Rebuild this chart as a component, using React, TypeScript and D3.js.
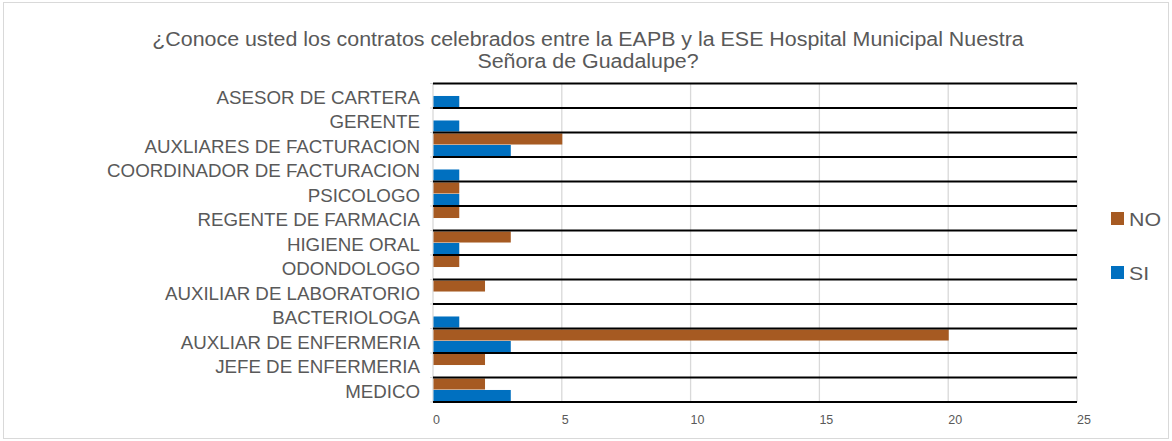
import React from 'react';
import * as d3 from 'd3';

const categories = [
  'ASESOR DE CARTERA',
  'GERENTE',
  'AUXLIARES DE FACTURACION',
  'COORDINADOR DE FACTURACION',
  'PSICOLOGO',
  'REGENTE DE FARMACIA',
  'HIGIENE ORAL',
  'ODONDOLOGO',
  'AUXILIAR DE LABORATORIO',
  'BACTERIOLOGA',
  'AUXLIAR DE ENFERMERIA',
  'JEFE DE ENFERMERIA',
  'MEDICO',
];
const noValues = [0, 0, 5, 0, 1, 1, 3, 1, 2, 0, 20, 2, 2];
const siValues = [1, 1, 3, 1, 1, 0, 1, 0, 0, 1, 3, 0, 3];
const xTicks = [0, 5, 10, 15, 20, 25];
const seriesNames = ['NO', 'SI'];
const seriesColors = ['#A65A22', '#0070C0'];

const titleLines = [
  '¿Conoce usted los contratos celebrados entre la EAPB y la  ESE Hospital Municipal Nuestra',
  'Señora de Guadalupe?',
];

export default function App() {
  const width = 1172;
  const height = 441;
  const left = 433;
  const right = 1077;
  const top = 83.5;
  const bottom = 402;

  const x = d3.scaleLinear().domain([0, 25]).range([left, right]);
  const y = d3.scaleBand().domain(categories).range([top, bottom]).padding(0);
  const inner = d3.scaleBand().domain(seriesNames).range([0, y.bandwidth()]).paddingOuter(0.08).paddingInner(0.04);
  const series = [noValues, siValues];
  const boundaries = categories.map((c) => y(c) as number).concat([bottom]);
  const font = 'Arial, "Liberation Sans", sans-serif';
  const grey = '#595959';

  return (
    <svg width={width} height={height} style={{ position: 'absolute', left: 0, top: 0 }}>
      <rect x={0} y={0} width={width} height={height} fill="#fff" />
      <rect x={3.5} y={2.5} width={1165} height={436} fill="#fff" stroke="#d9d9d9" strokeWidth={1} />
      {titleLines.map((t, i) => (
        <g key={i} transform={`translate(588,${46 + i * 22}) scale(1.07,1)`}>
          <text x={0} y={0} textAnchor="middle" fontFamily={font} fontSize={20} fill={grey}>
            {t}
          </text>
        </g>
      ))}
      {xTicks.map((t) => (
        <g key={t}>
          <line x1={x(t)} x2={x(t)} y1={top} y2={bottom} stroke="#d9d9d9" strokeWidth={1.3} />
          <text x={x(t)} y={424} textAnchor="start" fontFamily={font} fontSize={12.5} fill={grey}>
            {t}
          </text>
        </g>
      ))}
      {boundaries.map((b, i) => (
        <line key={'tk' + i} x1={left - 3} x2={left} y1={b} y2={b} stroke="#d9d9d9" strokeWidth={1} />
      ))}
      {series.map((vals, si) =>
        categories.map((c, ci) =>
          vals[ci] > 0 ? (
            <rect
              key={si + '-' + ci}
              x={x(0) + 0.5}
              y={(y(c) as number) + (inner(seriesNames[si]) as number)}
              width={x(vals[ci]) - x(0)}
              height={inner.bandwidth()}
              fill={seriesColors[si]}
            />
          ) : null
        )
      )}
      {boundaries.map((b, i) => (
        <line key={'h' + i} x1={left} x2={right} y1={b} y2={b} stroke="#000" strokeWidth={2} />
      ))}
      {categories.map((c) => (
        <g key={c} transform={`translate(420,${(y(c) as number) + y.bandwidth() / 2 + 8}) scale(1.07,1)`}>
          <text x={0} y={0} textAnchor="end" fontFamily={font} fontSize={17.5} fill={grey}>
            {c}
          </text>
        </g>
      ))}
      {seriesNames.map((s, i) => (
        <g key={s}>
          <rect x={1111} y={212 + i * 54} width={13} height={13} fill={seriesColors[i]} />
          <g transform={`translate(1129,${226 + i * 54}) scale(1.22,1)`}>
            <text x={0} y={0} fontFamily={font} fontSize={17.5} fill={grey}>
              {s}
            </text>
          </g>
        </g>
      ))}
    </svg>
  );
}
